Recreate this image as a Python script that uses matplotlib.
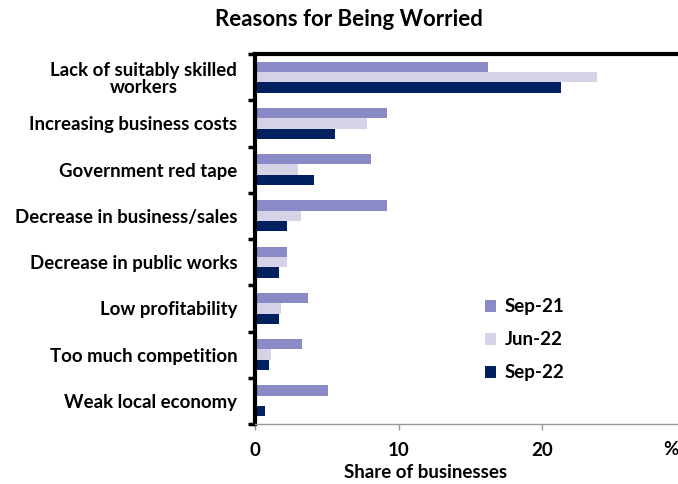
import matplotlib
matplotlib.use("Agg")
import matplotlib.pyplot as plt
import numpy as np
from matplotlib.ticker import FixedLocator

categories = ["Lack of suitably skilled\nworkers", "Increasing business costs", "Government red tape",
              "Decrease in business/sales", "Decrease in public works", "Low profitability",
              "Too much competition", "Weak local economy"]
series_names = ["Sep-21", "Jun-22", "Sep-22"]
sep21 = [16.2, 9.2, 8.1, 9.2, 2.2, 3.7, 3.3, 5.1]
jun22 = [23.8, 7.8, 3.0, 3.2, 2.2, 1.8, 1.1, 0.0]
sep22 = [21.3, 5.6, 4.1, 2.2, 1.7, 1.7, 1.0, 0.7]
colors = ["#8A8AC6", "#D6D3E6", "#00205F"]
xticks = [0, 10, 20]

plt.rcParams['font.family'] = ['Lato', 'DejaVu Sans']
fig = plt.figure(figsize=(6.78, 4.84), dpi=100)
ax = fig.add_axes([255/678, 1-424/484, 1.0-255/678+0.006, (424-54)/484])

n = len(categories)
y = np.arange(n)
h = 0.223
for i, (vals, c, name) in enumerate(zip([sep21, jun22, sep22], colors, series_names)):
    ax.barh(y + (i-1)*h, vals, height=h, color=c, label=name)

ax.set_ylim(n-0.5, -0.5)
ax.set_xlim(0, 29.75)
ax.set_yticks(y)
ax.set_yticklabels(categories, fontsize=13.4, fontweight='bold', multialignment='center', linespacing=1.05)
ax.yaxis.set_minor_locator(FixedLocator(np.arange(-0.5, n, 1)))
ax.tick_params(axis='y', which='major', length=0, pad=12.8)
ax.tick_params(axis='y', which='minor', length=5, width=2.5, color='black')
ax.set_xticks(xticks)
ax.set_xticklabels([str(t) for t in xticks], fontsize=13.5, fontweight='bold')
ax.tick_params(axis='x', length=4, width=1, color='#999999', pad=9)
ax.text(1.0-0.027, -0.07, "%", transform=ax.transAxes, ha='center', va='center', fontsize=13.5, fontweight='bold')

for s in ['left', 'top']:
    ax.spines[s].set_linewidth(3)
    ax.spines[s].set_color('black')
ax.spines['right'].set_visible(False)
ax.spines['bottom'].set_linewidth(1)
ax.spines['bottom'].set_color('#999999')

fig.text(426/678, 1-472/484, "Share of businesses", ha='center', va='center', fontsize=13.5, fontweight='bold')

leg = ax.legend(loc='upper left', bbox_to_anchor=(0.521, 0.36), frameon=False,
                prop={'size': 13.5, 'weight': 'bold'}, handlelength=0.6, handleheight=0.6,
                handletextpad=0.45, labelspacing=0.85, borderaxespad=0)

fig.text(349/678, 1-20/484, "Reasons for Being Worried", ha='center', va='center', fontsize=16, fontweight='bold')

fig.savefig("out.png", dpi=100)
